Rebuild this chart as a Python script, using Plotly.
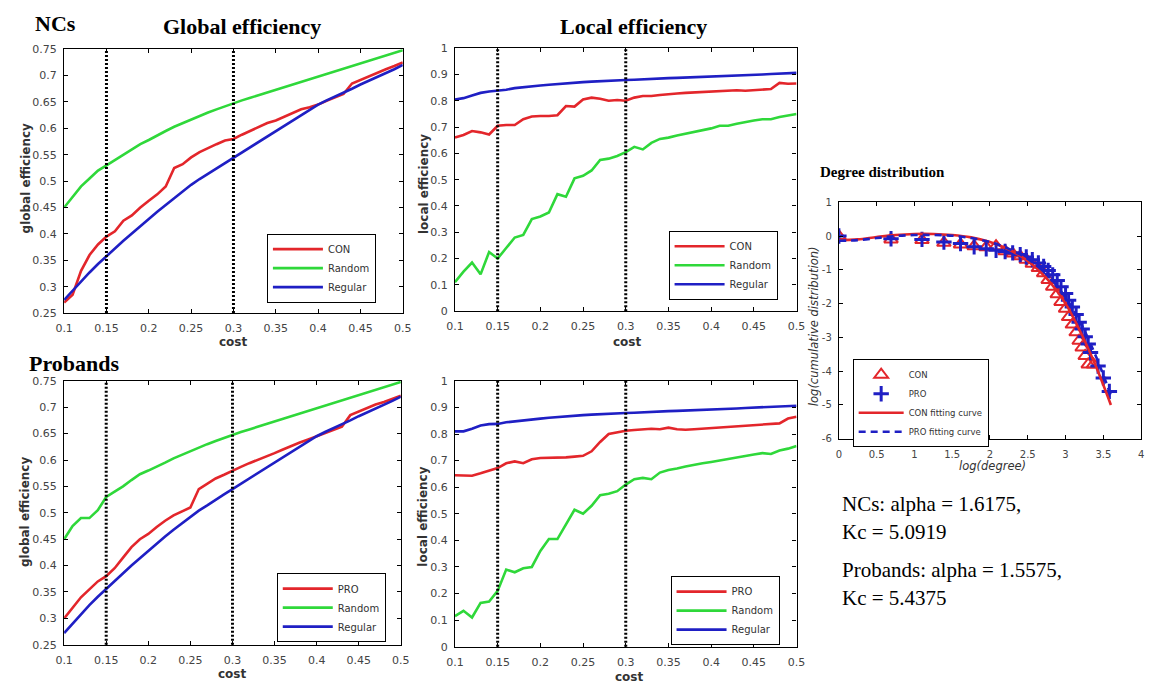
import plotly.graph_objects as go

W, H = 1157, 692

# ---------------- data ----------------
cost = [0.10, 0.11, 0.12, 0.13, 0.14, 0.15, 0.16, 0.17, 0.18, 0.19, 0.20,
        0.21, 0.22, 0.23, 0.24, 0.25, 0.26, 0.27, 0.28, 0.29, 0.30,
        0.31, 0.32, 0.33, 0.34, 0.35, 0.36, 0.37, 0.38, 0.39, 0.40,
        0.41, 0.42, 0.43, 0.44, 0.45, 0.46, 0.47, 0.48, 0.49, 0.50]

threshold_costs = [0.15, 0.30]

# NCs - global efficiency
ge_nc_con = [0.270, 0.285, 0.330, 0.360, 0.380, 0.395, 0.405, 0.425, 0.435, 0.450, 0.463,
             0.475, 0.490, 0.525, 0.532, 0.545, 0.555, 0.563, 0.570, 0.577, 0.580,
             0.588, 0.595, 0.602, 0.610, 0.615, 0.622, 0.630, 0.636, 0.640, 0.645,
             0.652, 0.658, 0.665, 0.685, 0.692, 0.698, 0.705, 0.712, 0.718, 0.725]
ge_nc_rand = [0.450, 0.470, 0.490, 0.505, 0.520, 0.530, 0.540, 0.550, 0.560, 0.570, 0.578,
              0.587, 0.595, 0.603, 0.610, 0.617, 0.623, 0.630, 0.636, 0.642, 0.648,
              0.653, 0.658, 0.663, 0.668, 0.673, 0.678, 0.683, 0.688, 0.693, 0.698,
              0.703, 0.708, 0.713, 0.718, 0.723, 0.728, 0.733, 0.738, 0.743, 0.748]
ge_nc_reg = [0.275, 0.293, 0.310, 0.327, 0.343, 0.358, 0.373, 0.387, 0.401, 0.415, 0.429,
             0.442, 0.455, 0.468, 0.480, 0.493, 0.504, 0.514, 0.525, 0.535, 0.545,
             0.555, 0.565, 0.575, 0.585, 0.595, 0.605, 0.615, 0.625, 0.635, 0.645,
             0.653, 0.660, 0.668, 0.675, 0.683, 0.690, 0.698, 0.705, 0.712, 0.720]

# NCs - local efficiency
le_nc_con = [0.660, 0.670, 0.685, 0.680, 0.672, 0.705, 0.708, 0.708, 0.730, 0.740, 0.742,
             0.742, 0.745, 0.780, 0.778, 0.805, 0.812, 0.808, 0.800, 0.803, 0.800,
             0.812, 0.818, 0.818, 0.822, 0.826, 0.828, 0.830, 0.832, 0.834, 0.835,
             0.836, 0.838, 0.840, 0.838, 0.840, 0.843, 0.845, 0.868, 0.865, 0.866]
le_nc_rand = [0.110, 0.150, 0.185, 0.140, 0.225, 0.200, 0.240, 0.280, 0.290, 0.350, 0.360,
              0.375, 0.445, 0.435, 0.505, 0.515, 0.535, 0.575, 0.580, 0.590, 0.605,
              0.625, 0.615, 0.640, 0.655, 0.660, 0.668, 0.675, 0.683, 0.690, 0.695,
              0.705, 0.705, 0.713, 0.720, 0.725, 0.730, 0.730, 0.738, 0.745, 0.750]
le_nc_reg = [0.805, 0.810, 0.820, 0.830, 0.835, 0.838, 0.842, 0.848, 0.852, 0.855, 0.858,
             0.861, 0.864, 0.867, 0.869, 0.871, 0.873, 0.875, 0.877, 0.878, 0.879,
             0.880, 0.882, 0.883, 0.884, 0.886, 0.887, 0.888, 0.890, 0.891, 0.892,
             0.894, 0.895, 0.896, 0.898, 0.899, 0.900, 0.902, 0.903, 0.905, 0.906]

# Probands - global efficiency
ge_pro_pro = [0.300, 0.320, 0.340, 0.355, 0.370, 0.380, 0.395, 0.415, 0.435, 0.450, 0.460,
              0.473, 0.485, 0.495, 0.502, 0.510, 0.545, 0.555, 0.565, 0.572, 0.580,
              0.587, 0.594, 0.600, 0.607, 0.613, 0.620, 0.627, 0.633, 0.639, 0.645,
              0.651, 0.657, 0.663, 0.685, 0.692, 0.698, 0.705, 0.710, 0.716, 0.722]
ge_pro_rand = [0.450, 0.475, 0.490, 0.490, 0.505, 0.530, 0.540, 0.550, 0.562, 0.573, 0.580,
               0.587, 0.595, 0.603, 0.610, 0.617, 0.623, 0.630, 0.636, 0.642, 0.648,
               0.653, 0.658, 0.663, 0.668, 0.673, 0.678, 0.683, 0.688, 0.693, 0.698,
               0.703, 0.708, 0.713, 0.718, 0.723, 0.728, 0.733, 0.738, 0.743, 0.748]
ge_pro_reg = [0.272, 0.290, 0.308, 0.325, 0.341, 0.356, 0.371, 0.385, 0.400, 0.414, 0.428,
              0.442, 0.455, 0.468, 0.480, 0.493, 0.504, 0.514, 0.525, 0.535, 0.545,
              0.555, 0.565, 0.575, 0.585, 0.595, 0.605, 0.615, 0.625, 0.635, 0.645,
              0.653, 0.660, 0.668, 0.675, 0.683, 0.690, 0.698, 0.705, 0.712, 0.720]

# Probands - local efficiency
le_pro_pro = [0.645, 0.643, 0.643, 0.652, 0.662, 0.672, 0.690, 0.697, 0.690, 0.705, 0.710,
              0.710, 0.710, 0.712, 0.715, 0.718, 0.735, 0.770, 0.800, 0.807, 0.812,
              0.815, 0.818, 0.820, 0.818, 0.824, 0.818, 0.816, 0.818, 0.820, 0.824,
              0.826, 0.828, 0.828, 0.830, 0.832, 0.835, 0.838, 0.840, 0.858, 0.865]
le_pro_rand = [0.115, 0.135, 0.110, 0.165, 0.170, 0.210, 0.290, 0.280, 0.295, 0.300, 0.360,
               0.405, 0.405, 0.460, 0.515, 0.500, 0.530, 0.570, 0.575, 0.585, 0.610,
               0.630, 0.635, 0.630, 0.655, 0.665, 0.670, 0.678, 0.685, 0.690, 0.695,
               0.700, 0.705, 0.712, 0.717, 0.723, 0.728, 0.725, 0.738, 0.745, 0.755]
le_pro_reg = [0.810, 0.810, 0.820, 0.832, 0.837, 0.838, 0.844, 0.848, 0.852, 0.855, 0.858,
              0.861, 0.864, 0.867, 0.869, 0.871, 0.873, 0.875, 0.877, 0.878, 0.879,
              0.880, 0.882, 0.883, 0.884, 0.886, 0.887, 0.888, 0.890, 0.891, 0.892,
              0.894, 0.895, 0.896, 0.898, 0.899, 0.900, 0.902, 0.903, 0.905, 0.906]

# Degree distribution
log_deg_con = [0.00, 0.69, 1.10, 1.39, 1.61, 1.79, 1.95, 2.08, 2.20, 2.30, 2.40, 2.48, 2.56, 2.64,
               2.71, 2.77, 2.83, 2.89, 2.94, 3.00, 3.04, 3.09, 3.14, 3.18, 3.22, 3.26, 3.30, 3.37]
log_cum_con = [0.00, -0.10, -0.12, -0.20, -0.25, -0.30, -0.33, -0.30, -0.45, -0.52, -0.60, -0.70,
               -0.82, -0.95, -1.10, -1.30, -1.50, -1.72, -1.95, -2.15, -2.40, -2.62, -2.85, -3.10,
               -3.30, -3.55, -3.80, -3.80]
log_deg_pro = [0.00, 0.69, 1.10, 1.39, 1.61, 1.79, 1.95, 2.08, 2.20, 2.30, 2.40, 2.48, 2.56, 2.64,
               2.71, 2.77, 2.83, 2.89, 2.94, 3.00, 3.04, 3.09, 3.14, 3.18, 3.22, 3.26, 3.30, 3.33,
               3.43, 3.50, 3.58]
log_cum_pro = [0.00, -0.08, -0.10, -0.18, -0.22, -0.32, -0.38, -0.42, -0.46, -0.50, -0.55, -0.62,
               -0.70, -0.80, -0.90, -1.02, -1.15, -1.32, -1.50, -1.70, -1.90, -2.10, -2.32, -2.55,
               -2.75, -2.98, -3.20, -3.45, -3.85, -4.20, -4.60]
fit_x = [0.0, 0.25, 0.5, 0.75, 1.0, 1.25, 1.5, 1.75, 2.0, 2.25, 2.5, 2.75, 3.0, 3.2, 3.4, 3.6]
fit_con = [-0.12, -0.10, -0.03, 0.03, 0.06, 0.06, 0.03, -0.04, -0.18, -0.40, -0.74, -1.25,
           -2.00, -2.85, -3.85, -5.00]
fit_pro = [-0.14, -0.12, -0.06, 0.00, 0.03, 0.03, 0.01, -0.06, -0.18, -0.38, -0.68, -1.13,
           -1.82, -2.58, -3.55, -4.72]

# tick labels
cost_ticks = [0.1, 0.15, 0.2, 0.25, 0.3, 0.35, 0.4, 0.45, 0.5]
cost_tick_text = ["0.1", "0.15", "0.2", "0.25", "0.3", "0.35", "0.4", "0.45", "0.5"]
ge_ticks = [0.25, 0.3, 0.35, 0.4, 0.45, 0.5, 0.55, 0.6, 0.65, 0.7, 0.75]
ge_tick_text = ["0.25", "0.3", "0.35", "0.4", "0.45", "0.5", "0.55", "0.6", "0.65", "0.7", "0.75"]
le_ticks = [0, 0.1, 0.2, 0.3, 0.4, 0.5, 0.6, 0.7, 0.8, 0.9, 1]
le_tick_text = ["0", "0.1", "0.2", "0.3", "0.4", "0.5", "0.6", "0.7", "0.8", "0.9", "1"]
deg_ticks = [0, 0.5, 1, 1.5, 2, 2.5, 3, 3.5, 4]
deg_tick_text = ["0", "0.5", "1", "1.5", "2", "2.5", "3", "3.5", "4"]
cum_ticks = [-6, -5, -4, -3, -2, -1, 0, 1]
cum_tick_text = ["-6", "-5", "-4", "-3", "-2", "-1", "0", "1"]

# ---------------- style ----------------
RED = "#e3262b"
GREEN = "#2fd83a"
BLUE = "#1f1fc4"
SERIF = "Liberation Serif"
SANS = "DejaVu Sans"


def px(x):
    return x / W


def py(y):
    return 1 - y / H


fig = go.Figure()

panels = [
    ("", "legend", "CON", ge_nc_con, ge_nc_rand, ge_nc_reg, ge_ticks, ge_tick_text, [0.25, 0.75],
     (56, 400), (44, 313)),
    ("2", "legend2", "CON", le_nc_con, le_nc_rand, le_nc_reg, le_ticks, le_tick_text, [0, 1],
     (453, 800), (43, 311)),
    ("3", "legend3", "PRO", ge_pro_pro, ge_pro_rand, ge_pro_reg, ge_ticks, ge_tick_text, [0.25, 0.75],
     (56, 398), (382, 651)),
    ("4", "legend4", "PRO", le_pro_pro, le_pro_rand, le_pro_reg, le_ticks, le_tick_text, [0, 1],
     (453, 800), (382, 653)),
]

axis_common = dict(showline=True, linecolor="black", linewidth=1.2, mirror="allticks",
                   ticks="inside", ticklen=4, tickcolor="black", showgrid=False, zeroline=False,
                   tickfont=dict(family=SANS, size=11, color="#444"))

legend_pos = {
    "legend": (262, 232),
    "legend2": (670, 229),
    "legend3": (272, 578),
    "legend4": (672, 581),
}

layout = dict(width=W, height=H, margin=dict(l=0, r=0, t=0, b=0),
              paper_bgcolor="white", plot_bgcolor="white", showlegend=True)

for suf, leg, grp, s_grp, s_rand, s_reg, yt, ytt, yr, dx, dy in panels:
    xa = "x" + suf
    ya = "y" + suf
    for name, vals, col in ((grp, s_grp, RED), ("Random", s_rand, GREEN), ("Regular", s_reg, BLUE)):
        fig.add_trace(go.Scatter(x=cost, y=vals, mode="lines", name=name,
                                 line=dict(color=col, width=2.6),
                                 xaxis=xa, yaxis=ya, legend=leg))
    for c in threshold_costs:
        fig.add_shape(type="line", xref=xa, yref=ya + " domain", x0=c, x1=c, y0=0, y1=1,
                      line=dict(color="black", width=3, dash="2px,2px"))
    layout["xaxis" + suf] = dict(domain=[px(dx[0]), px(dx[1])], anchor=ya, range=[0.1, 0.5],
                                 tickvals=cost_ticks, ticktext=cost_tick_text,
                                 ticklabelstandoff=5, **axis_common)
    layout["yaxis" + suf] = dict(domain=[py(dy[1]), py(dy[0])], anchor=xa, range=yr,
                                 tickvals=yt, ticktext=ytt, ticklabelstandoff=4, **axis_common)
    lx, ly = legend_pos[leg]
    layout[leg] = dict(x=px(lx), y=py(ly), xref="paper", yref="paper", xanchor="left",
                       yanchor="top", bordercolor="black", borderwidth=1, bgcolor="white",
                       font=dict(family=SANS, size=10, color="#333"), itemwidth=50,
                       tracegroupgap=0)

# Degree distribution panel
fig.add_trace(go.Scatter(x=log_deg_con, y=log_cum_con, mode="markers", name="CON",
                         marker=dict(symbol="triangle-up-open", size=12, color=RED,
                                     line=dict(color=RED, width=2)),
                         xaxis="x5", yaxis="y5", legend="legend5"))
fig.add_trace(go.Scatter(x=log_deg_pro, y=log_cum_pro, mode="markers", name="PRO",
                         marker=dict(symbol="cross-thin", size=11, color=BLUE,
                                     line=dict(color=BLUE, width=3)),
                         xaxis="x5", yaxis="y5", legend="legend5"))
fig.add_trace(go.Scatter(x=fit_x, y=fit_con, mode="lines", name="CON fitting curve",
                         line=dict(color=RED, width=2.6, shape="spline"),
                         xaxis="x5", yaxis="y5", legend="legend5"))
fig.add_trace(go.Scatter(x=fit_x, y=fit_pro, mode="lines", name="PRO fitting curve",
                         line=dict(color=BLUE, width=2.6, shape="spline", dash="7px,5px"),
                         xaxis="x5", yaxis="y5", legend="legend5"))

axis_small = dict(axis_common)
axis_small["tickfont"] = dict(family=SANS, size=10, color="#444")
layout["xaxis5"] = dict(domain=[px(843), px(1150)], anchor="y5", range=[0, 4],
                        tickvals=deg_ticks, ticktext=deg_tick_text, ticklabelstandoff=6,
                        **axis_small)
layout["yaxis5"] = dict(domain=[py(441), py(200)], anchor="x5", range=[-6, 1],
                        tickvals=cum_ticks, ticktext=cum_tick_text, ticklabelstandoff=4,
                        **axis_small)
layout["legend5"] = dict(x=px(857), y=py(360), xref="paper", yref="paper", xanchor="left",
                         yanchor="top", bordercolor="black", borderwidth=1, bgcolor="white",
                         font=dict(family=SANS, size=8.5, color="#333"), itemwidth=45,
                         tracegroupgap=0)

fig.update_layout(**layout)

# ---------------- text ----------------
ann = []


def add_text(text, x, y, size, family=SERIF, bold=False, italic=False, xanchor="center",
             angle=0, color="black"):
    t = text
    if bold:
        t = "<b>" + t + "</b>"
    if italic:
        t = "<i>" + t + "</i>"
    ann.append(dict(text=t, x=px(x), y=py(y), xref="paper", yref="paper", showarrow=False,
                    xanchor=xanchor, yanchor="middle", textangle=angle,
                    font=dict(family=family, size=size, color=color)))


add_text("NCs", 24, 18, 22, bold=True, xanchor="left")
add_text("Global efficiency", 237, 21, 22, bold=True)
add_text("Local efficiency", 634, 21, 22, bold=True)
add_text("Probands", 18, 364, 22, bold=True, xanchor="left")
add_text("Degree distribution", 822, 169, 15, bold=True, xanchor="left")

for (x, y) in ((17, 176), (17, 516)):
    add_text("global efficiency", x, y, 12, family=SANS, bold=True, angle=-90, color="#333")
for (x, y) in ((421, 181), (421, 520)):
    add_text("local efficiency", x, y, 12, family=SANS, bold=True, angle=-90, color="#333")
for (x, y) in ((228, 342), (628, 342), (227, 681), (630, 684)):
    add_text("cost", x, y, 12, family=SANS, bold=True, color="#333")

add_text("log(cumulative distribution)", 818, 326, 11.5, family=SANS, italic=True, angle=-90,
         color="#333")
add_text("log(degree)", 999, 469, 11.5, family=SANS, italic=True, color="#333")

add_text("NCs: alpha = 1.6175,", 844, 508, 21, xanchor="left")
add_text("Kc = 5.0919", 844, 536, 21, xanchor="left")
add_text("Probands: alpha = 1.5575,", 844, 575, 21, xanchor="left")
add_text("Kc = 5.4375", 844, 603, 21, xanchor="left")

fig.update_layout(annotations=ann)

fig.write_html("out.html")
